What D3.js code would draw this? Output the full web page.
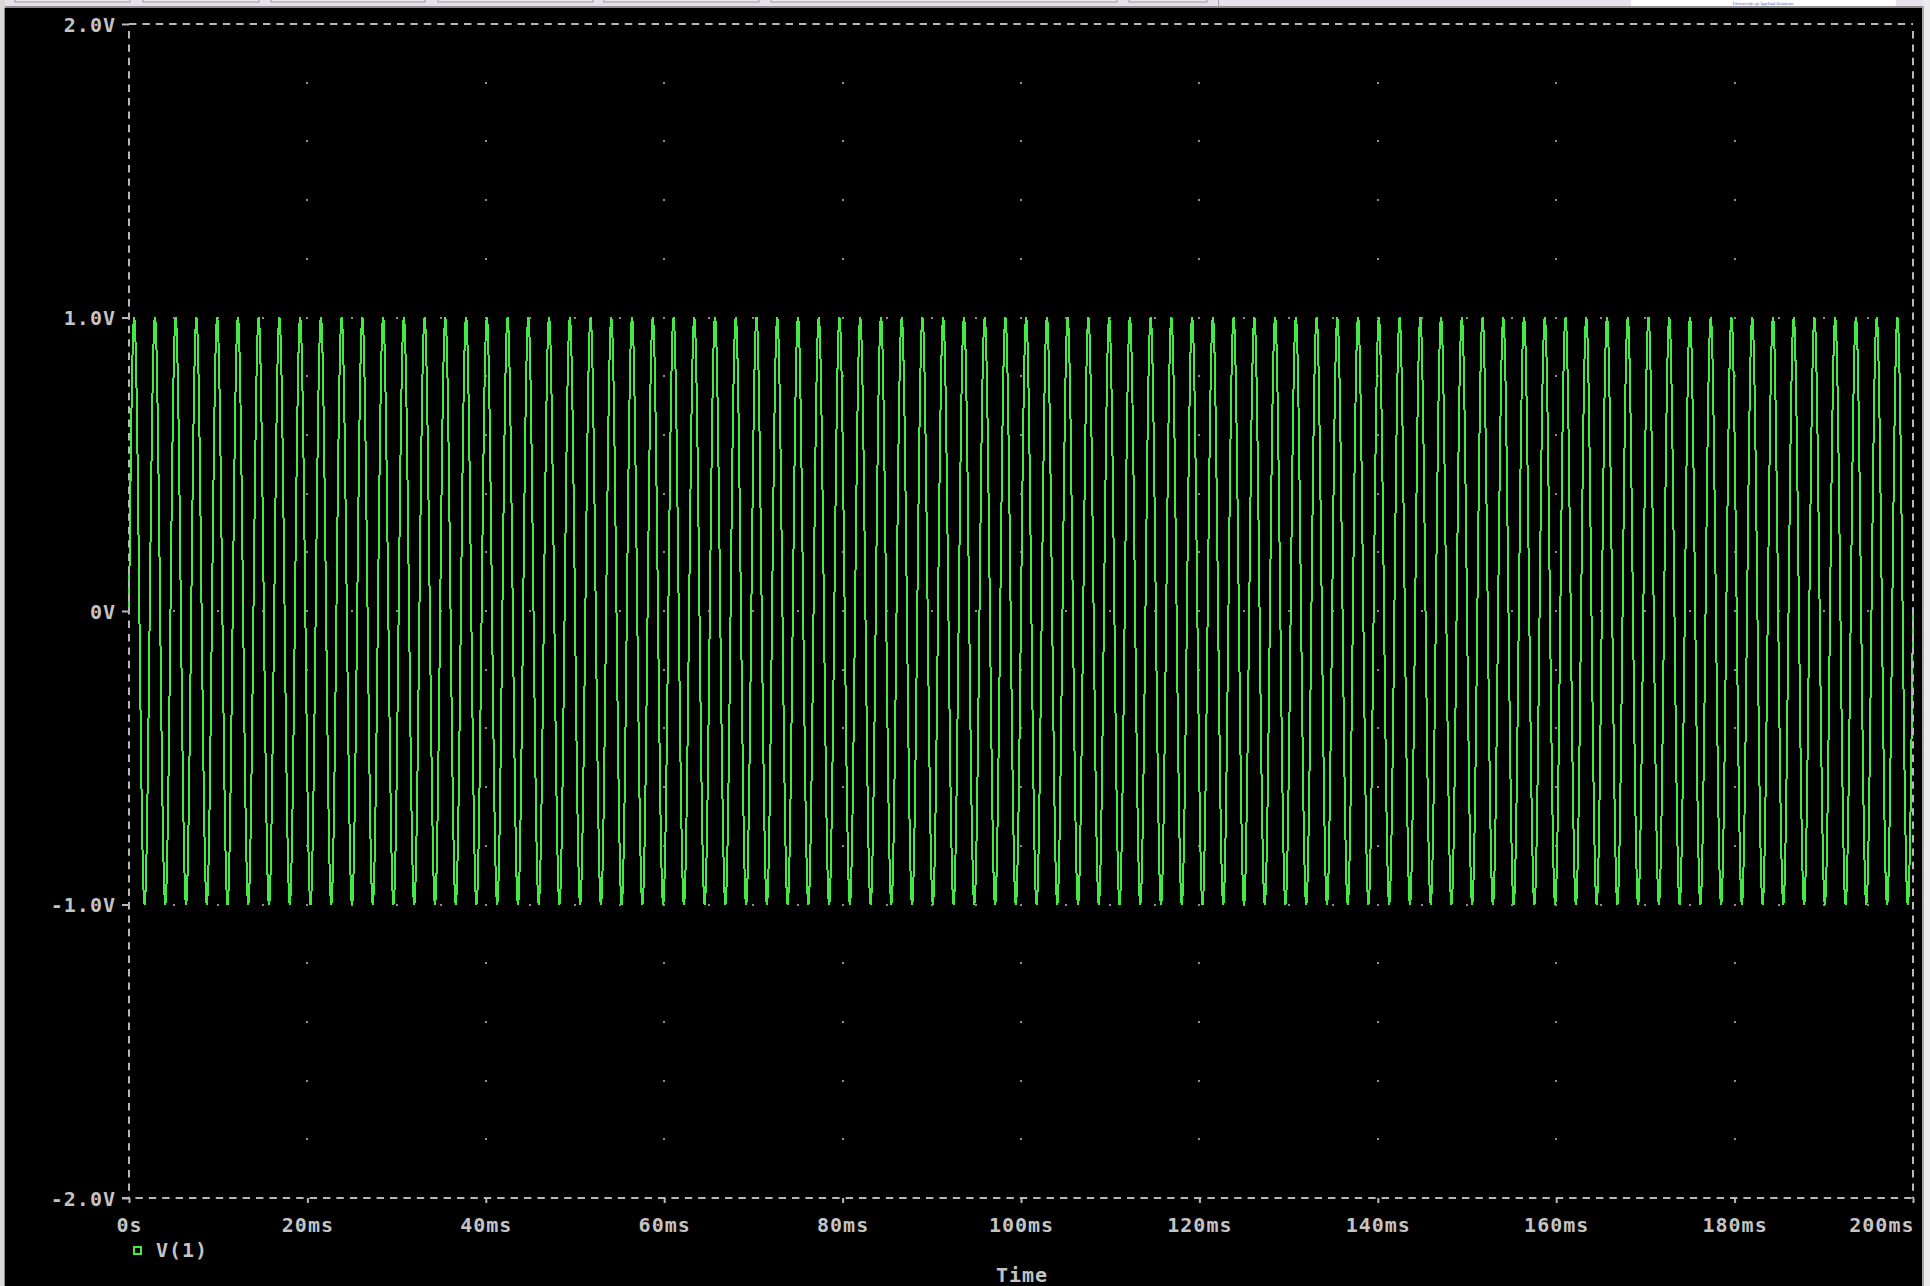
<!DOCTYPE html>
<html>
<head>
<meta charset="utf-8">
<script src="https://cdn.jsdelivr.net/npm/d3@7"></script>
<style>
  html, body { margin: 0; padding: 0; background: #000; overflow: hidden; }
  svg { display: block; }
  .lbl { font-family: "DejaVu Sans Mono", monospace; font-weight: bold; font-size: 20px; letter-spacing: 1px; fill: #c4c4c4; }
</style>
</head>
<body>
<script>
// Probe trace V(1): transient run of a sinusoidal source, 0 .. 200 ms
const traceName = "V(1)";
const xAxisTitle = "Time";
const bannerText = "University of Applied Sciences";

// Axis ticks (time in ms, voltage in V)
const xTicks = [0, 20, 40, 60, 80, 100, 120, 140, 160, 180, 200];
const xTickLabels = ["0s", "20ms", "40ms", "60ms", "80ms", "100ms", "120ms", "140ms", "160ms", "180ms", "200ms"];
const yTicks = [-2, -1, 0, 1, 2];
const yTickLabels = ["-2.0V", "-1.0V", "0V", "1.0V", "2.0V"];

// VSIN source: offset (V), amplitude (V), frequency (Hz)
const vOffset = [0];
const vAmpl = [1];
const vFreq = [430];
// Transient analysis: stop time (ms) and points per source period
const tStop = [200];
const pointsPerPeriod = [40];

// Grid dot spacing (minor divisions)
const xMinor = 5;     // ms
const yMinor = 0.2;   // V

const W = 1930, H = 1286;
const svg = d3.select("body").append("svg").attr("width", W).attr("height", H);

// window chrome around the plot
svg.append("rect").attr("x", 0).attr("y", 0).attr("width", W).attr("height", H).attr("fill", "#000");
svg.append("rect").attr("x", 0).attr("y", 0).attr("width", W).attr("height", 8).attr("fill", "#e6e1ea");
svg.append("rect").attr("x", 0).attr("y", 6).attr("width", 1922).attr("height", 2).attr("fill", "#8e8e8e");
const buttons = [[15, 130], [143, 259], [271, 425], [438, 593], [604, 759], [771, 1117], [1129, 1207]];
svg.selectAll("rect.btn").data(buttons).enter().append("rect").attr("class", "btn")
  .attr("x", d => d[0]).attr("y", -6).attr("width", d => d[1] - d[0]).attr("height", 8)
  .attr("fill", "#e9e6ec").attr("stroke", "#9c9c9c").attr("stroke-width", 1);
svg.append("rect").attr("x", 1218).attr("y", 0).attr("width", 1).attr("height", 7).attr("fill", "#a0a0a0");
svg.append("rect").attr("x", 1631).attr("y", 0).attr("width", 265).attr("height", 6).attr("fill", "#fff");
svg.append("text").attr("x", 1763).attr("y", 5).attr("text-anchor", "middle")
  .attr("font-family", "Liberation Serif, serif").attr("font-style", "italic").attr("font-size", 5).attr("fill", "#5050c8")
  .text(bannerText);
svg.append("rect").attr("x", 0).attr("y", 0).attr("width", 5).attr("height", H).attr("fill", "#d9d9d9");
svg.append("rect").attr("x", 4).attr("y", 8).attr("width", 1).attr("height", H).attr("fill", "#8a8a8a");
svg.append("rect").attr("x", 1923).attr("y", 0).attr("width", 7).attr("height", H).attr("fill", "#ebebeb");
svg.append("rect").attr("x", 1922).attr("y", 6).attr("width", 2).attr("height", H).attr("fill", "#a8a8a8");

const x = d3.scaleLinear().domain([0, 200]).range([129, 1913]);
const y = d3.scaleLinear().domain([-2, 2]).range([1198, 24]);

const axisColor = "#b8b8b8";
const dash = "7.4 6";

// dotted grid: major horizontal lines dotted at minor x spacing, major vertical lines at minor y spacing
const dots = [];
yTicks.filter(v => v > -2 && v < 2).forEach(v => {
  for (let t = xMinor; t < 200 - 1e-9; t += xMinor) dots.push([t, v]);
});
xTicks.filter(t => t > 0 && t < 200).forEach(t => {
  for (let k = 1; k < 20; k++) {
    const v = -2 + k * yMinor;
    if (Math.abs(v - Math.round(v)) > 1e-6) dots.push([t, v]);
  }
});
svg.append("g").selectAll("rect").data(dots).enter().append("rect")
  .attr("x", d => Math.round(x(d[0])) - 1).attr("y", d => Math.round(y(d[1])) - 1)
  .attr("width", 2).attr("height", 2).attr("fill", "#8c8c8c");

// trace samples from the source definition
const period = 1000 / vFreq[0];          // ms
const dt = period / pointsPerPeriod[0];
const samples = [];
for (let i = 0; i * dt <= tStop[0] + 1e-9; i++) {
  const t = i * dt;
  samples.push([t, vOffset[0] + vAmpl[0] * Math.sin(2 * Math.PI * vFreq[0] * t / 1000)]);
}
const line = d3.line().x(d => x(d[0])).y(d => y(d[1]));
svg.append("path").datum(samples).attr("d", line)
  .attr("fill", "none").attr("stroke", "#44ea44").attr("stroke-width", 2)
  .attr("shape-rendering", "crispEdges");

// frame: dashed box
svg.append("line").attr("x1", x(0)).attr("x2", x(200)).attr("y1", y(2)).attr("y2", y(2))
  .attr("stroke", axisColor).attr("stroke-width", 2).attr("stroke-dasharray", dash);
svg.append("line").attr("x1", x(200)).attr("x2", x(200)).attr("y1", y(2) + 7).attr("y2", y(-2))
  .attr("stroke", axisColor).attr("stroke-width", 2).attr("stroke-dasharray", dash);

// left axis
const yAxis = d3.axisLeft(y).tickValues(yTicks).tickSize(7).tickSizeOuter(0).tickPadding(6)
  .tickFormat((d, i) => yTickLabels[yTicks.indexOf(d)]);
const gy = svg.append("g").attr("transform", `translate(${x(0)},0)`).call(yAxis);
gy.select(".domain").attr("stroke", axisColor).attr("stroke-width", 2).attr("stroke-dasharray", dash)
  .attr("d", `M0,${y(2) + 7}V${y(-2)}`);
gy.selectAll(".tick line").attr("stroke", axisColor).attr("stroke-width", 2);
gy.selectAll(".tick text").attr("class", "lbl").attr("dy", "0.36em").attr("font-size", null).attr("font-family", null).attr("fill", null);

// bottom axis
const xAxis = d3.axisBottom(x).tickValues(xTicks).tickSize(5).tickSizeOuter(0).tickPadding(15)
  .tickFormat(d => xTickLabels[xTicks.indexOf(d)]);
const gx = svg.append("g").attr("transform", `translate(0,${y(-2)})`).call(xAxis);
gx.select(".domain").attr("stroke", axisColor).attr("stroke-width", 2).attr("stroke-dasharray", dash)
  .attr("d", `M${x(0) - 7},0H${x(200)}`);
gx.selectAll(".tick line").attr("stroke", axisColor).attr("stroke-width", 2);
gx.selectAll(".tick text").attr("class", "lbl").attr("font-size", null).attr("font-family", null).attr("fill", null)
  .attr("text-anchor", d => d === 200 ? "end" : "middle")
  .attr("dx", d => d === 200 ? 1 : 0);

// axis title
svg.append("text").attr("class", "lbl").attr("x", (x(0) + x(200)) / 2 + 1).attr("y", 1282)
  .attr("text-anchor", "middle").text(xAxisTitle);

// legend
svg.append("rect").attr("x", 134).attr("y", 1247).attr("width", 7).attr("height", 7)
  .attr("fill", "none").attr("stroke", "#44ea44").attr("stroke-width", 2);
svg.append("text").attr("class", "lbl").attr("x", 156).attr("y", 1257).text(traceName);
</script>
</body>
</html>
